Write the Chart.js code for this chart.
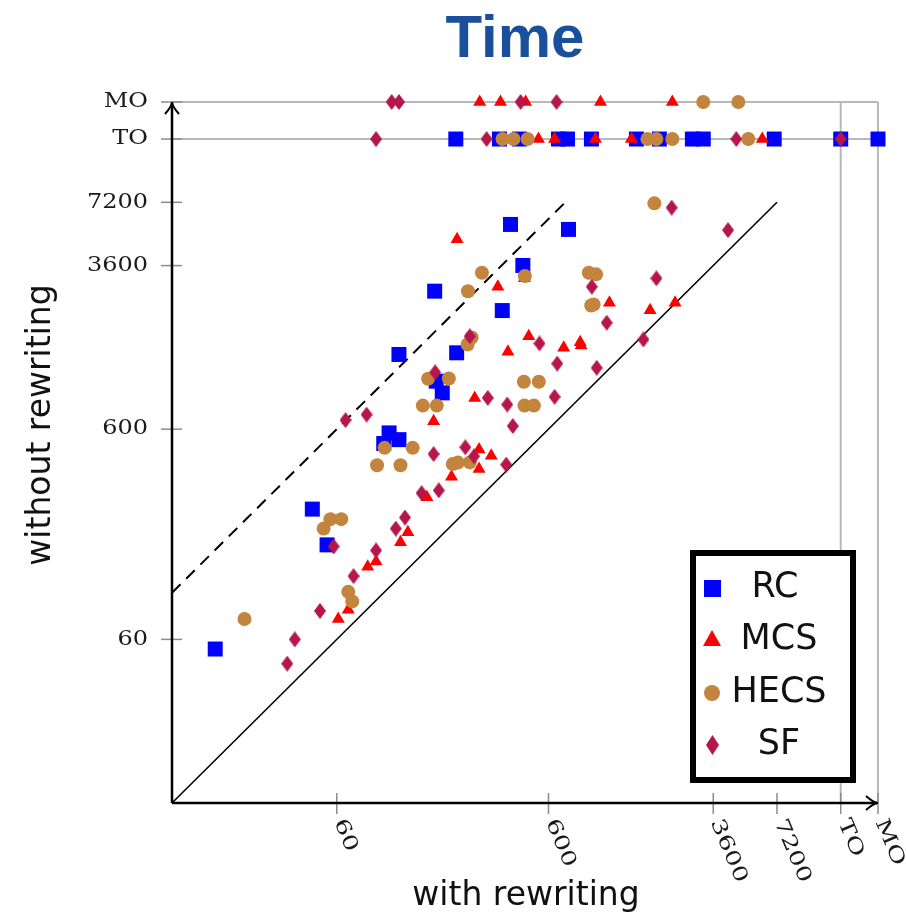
<!DOCTYPE html>
<html>
<head>
<meta charset="utf-8">
<script src="https://cdn.jsdelivr.net/npm/chart.js@4.4.0/dist/chart.umd.min.js"></script>
<style>
  html, body { margin: 0; padding: 0; background: #fff; }
  canvas { display: block; }
</style>
</head>
<body>
<canvas id="timeChart" width="906" height="917"></canvas>
<script>
  // timeouts and memouts get two extra slots past 7200 s
  var TO = 14400;
  var MO = 21600;

  var tickValues = [60, 600, 3600, 7200, TO, MO];
  var tickLabels = ['60', '600', '3600', '7200', 'TO', 'MO'];

  var seriesNames = ['RC', 'MCS', 'HECS', 'SF'];

  // seconds with / without rewriting
  var rcWith    = [16, 46, 54, 100, 106, 118, 118, 174, 177, 189, 221, 363, 397, 454, 746,
                   219, 352, 438, 669, 738, 957, 1561, 2004, 2869, 3230, 6985, TO, MO];
  var rcWithout = [54, 250, 169, 513, 576, 535, 1360, 2720, 1015, 893, 1385, 2200, 5650, 3605, 5350,
                   TO, TO, TO, TO, TO, TO, TO, TO, TO, TO, TO, TO, TO];

  var mcsWith    = [61, 68, 84, 92, 120, 130, 160, 172, 209, 269, 282, 322, 282, 222, 346, 462, 484,
                    386, 708, 847, 855, 1164, 1811, 2377,
                    538, 641, 1000, 1478, 6135, 284, 356, 468, 1056, 2307];
  var mcsWithout = [75, 83, 133, 141, 174, 194, 285, 654, 356, 845, 480, 449, 388, 4800, 2857, 3130, 1660,
                    1400, 1462, 1556, 1500, 2397, 2210, 2397,
                    TO, TO, TO, TO, TO, MO, MO, MO, MO, MO];

  var hecsWith    = [22, 68, 71, 52, 56, 63, 93, 120, 101, 137, 153, 178, 162, 203, 212, 224, 255,
                     250, 291, 464, 249, 260, 459, 540, 462, 512, 930, 1007, 955, 980, 1898,
                     364, 410, 478, 1759, 1940, 2307, 5270, 3230, 4729];
  var hecsWithout = [75, 101, 91, 202, 224, 224, 404, 404, 489, 489, 777, 777, 1042, 1045, 410, 416, 417,
                     2720, 3330, 3210, 1517, 1637, 1008, 1008, 777, 777, 3330, 3270, 2326, 2350, 7120,
                     TO, TO, TO, TO, TO, TO, TO, MO, MO];

  var sfWith    = [35, 38, 50, 72, 92, 58, 114, 126, 151, 182, 172, 66, 83, 175, 243, 267, 379, 407,
                   310, 383, 641, 255, 544, 660, 1014, 1130, 961, 1684, 1940, 2290, 4227,
                   92, 306, 4625, TO, 109, 118, 443, 655];
  var sfWithout = [46, 60, 82, 120, 159, 166, 202, 228, 298, 307, 457, 663, 704, 1119, 492, 446, 407, 621,
                   845, 786, 855, 1660, 1534, 1231, 1175, 1925, 2857, 1603, 3130, 6790, 5310,
                   TO, TO, TO, TO, MO, MO, MO, MO];

  var colors = ['#0000ff', '#ff0000', '#c3843e', '#b5164c'];

  function pairs(xs, ys) {
    var out = [];
    for (var i = 0; i < xs.length; i++) {
      out.push({ x: xs[i], y: ys[i] });
    }
    return out;
  }

  // tall diamond, chart.js only has the square one
  function diamond(w, h, color) {
    var c = document.createElement('canvas');
    c.width = w;
    c.height = h;
    var g = c.getContext('2d');
    g.fillStyle = color;
    g.beginPath();
    g.moveTo(w / 2, 0);
    g.lineTo(w, h / 2);
    g.lineTo(w / 2, h);
    g.lineTo(0, h / 2);
    g.closePath();
    g.fill();
    return c;
  }

  var sfMark = diamond(12, 16, colors[3]);

  function drawArrow(ctx, x, y, dx, dy) {
    // open stealth-like head pointing along (dx, dy)
    var len = 12, half = 7;
    var px = -dy, py = dx;
    ctx.beginPath();
    ctx.moveTo(x - dx * len + px * half, y - dy * len + py * half);
    ctx.quadraticCurveTo(x - dx * 4, y - dy * 4, x, y);
    ctx.quadraticCurveTo(x - dx * 4, y - dy * 4, x - dx * len - px * half, y - dy * len - py * half);
    ctx.stroke();
  }

  var decor = {
    id: 'decor',
    beforeDatasetsDraw: function(chart) {
      var ctx = chart.ctx;
      var xs = chart.scales.x, ys = chart.scales.y;
      var left = xs.getPixelForValue(10), right = xs.getPixelForValue(MO);
      var bottom = ys.getPixelForValue(10), top = ys.getPixelForValue(MO);
      ctx.save();
      ctx.strokeStyle = '#b8b8b8';
      ctx.lineWidth = 2;
      [TO, MO].forEach(function(v) {
        var py = ys.getPixelForValue(v);
        ctx.beginPath();
        ctx.moveTo(left, py);
        ctx.lineTo(right, py);
        ctx.stroke();
        var px = xs.getPixelForValue(v);
        ctx.beginPath();
        ctx.moveTo(px, top);
        ctx.lineTo(px, bottom);
        ctx.stroke();
      });
      ctx.lineWidth = 1.5;
      ctx.strokeStyle = '#8c8c8c';
      tickValues.forEach(function(v) {
        var py = ys.getPixelForValue(v);
        ctx.beginPath();
        ctx.moveTo(left - 11, py);
        ctx.lineTo(left + 10, py);
        ctx.stroke();
        var px = xs.getPixelForValue(v);
        ctx.beginPath();
        ctx.moveTo(px, bottom - 10);
        ctx.lineTo(px, bottom + 11);
        ctx.stroke();
      });
      ctx.restore();
    },
    afterDatasetsDraw: function(chart) {
      var ctx = chart.ctx;
      var xs = chart.scales.x, ys = chart.scales.y;
      var left = xs.getPixelForValue(10), right = xs.getPixelForValue(MO);
      var bottom = ys.getPixelForValue(10), top = ys.getPixelForValue(MO);
      ctx.save();

      // axes with arrow heads
      ctx.strokeStyle = '#000';
      ctx.lineWidth = 2.5;
      ctx.lineCap = 'butt';
      ctx.beginPath();
      ctx.moveTo(left, bottom);
      ctx.lineTo(left, top + 1);
      ctx.moveTo(left, bottom);
      ctx.lineTo(right - 1, bottom);
      ctx.stroke();
      ctx.lineWidth = 2;
      drawArrow(ctx, left, top, 0, -1);
      drawArrow(ctx, right, bottom, 1, 0);

      // tick labels
      ctx.fillStyle = '#1a1a1a';
      ctx.font = '20px "DejaVu Serif"';
      tickValues.forEach(function(v, i) {
        ctx.save();
        ctx.translate(148, ys.getPixelForValue(v));
        ctx.scale(1.2, 1);
        ctx.textAlign = 'right';
        ctx.textBaseline = 'middle';
        ctx.fillText(tickLabels[i], 0, 0);
        ctx.restore();

        ctx.save();
        ctx.translate(xs.getPixelForValue(v) + 2, 820);
        ctx.rotate(67 * Math.PI / 180);
        ctx.scale(1.32, 1);
        ctx.textAlign = 'left';
        ctx.textBaseline = 'middle';
        ctx.fillText(tickLabels[i], 0, 0);
        ctx.restore();
      });

      // axis titles
      ctx.fillStyle = '#111';
      ctx.font = '33px "DejaVu Sans"';
      ctx.textAlign = 'center';
      ctx.textBaseline = 'alphabetic';
      ctx.fillText('with rewriting', 526, 905);
      ctx.save();
      ctx.translate(50, 425);
      ctx.rotate(-Math.PI / 2);
      ctx.fillText('without rewriting', 0, 0);
      ctx.restore();

      // title
      ctx.fillStyle = '#1a4f9c';
      ctx.font = 'bold 60px "Liberation Sans"';
      ctx.fillText('Time', 515, 57);

      // legend box
      ctx.fillStyle = '#fff';
      ctx.fillRect(690, 550, 166, 233);
      ctx.strokeStyle = '#000';
      ctx.lineWidth = 6;
      ctx.strokeRect(693, 553, 160, 227);
      var rows = [588, 640, 693, 745];
      ctx.font = '35px "DejaVu Sans"';
      ctx.textAlign = 'center';
      seriesNames.forEach(function(name, i) {
        var my = rows[i];
        ctx.fillStyle = colors[i];
        if (i === 0) {
          ctx.fillRect(704, my - 8, 17, 17);
        } else if (i === 1) {
          ctx.beginPath();
          ctx.moveTo(712, my - 10);
          ctx.lineTo(721, my + 6);
          ctx.lineTo(703, my + 6);
          ctx.closePath();
          ctx.fill();
        } else if (i === 2) {
          ctx.beginPath();
          ctx.arc(712, my, 8, 0, Math.PI * 2);
          ctx.fill();
        } else {
          ctx.drawImage(diamond(13, 20, colors[3]), 706, my - 10);
        }
        ctx.fillStyle = '#111';
        ctx.fillText(name, i === 0 ? 775 : 779, my + 9);
      });
      ctx.restore();
    }
  };

  var ctx = document.getElementById('timeChart').getContext('2d');
  var chart = new Chart(ctx, {
    type: 'scatter',
    data: {
      datasets: [
        {
          label: 'RC',
          data: pairs(rcWith, rcWithout),
          pointStyle: 'rect',
          pointRadius: 10.6,
          backgroundColor: colors[0],
          borderWidth: 0,
          order: 4
        },
        {
          label: 'MCS',
          data: pairs(mcsWith, mcsWithout),
          pointStyle: 'triangle',
          pointRadius: 7.5,
          backgroundColor: colors[1],
          borderWidth: 0,
          order: 3
        },
        {
          label: 'HECS',
          data: pairs(hecsWith, hecsWithout),
          pointStyle: 'circle',
          pointRadius: 7,
          backgroundColor: colors[2],
          borderWidth: 0,
          order: 2
        },
        {
          label: 'SF',
          data: pairs(sfWith, sfWithout),
          pointStyle: sfMark,
          backgroundColor: colors[3],
          borderWidth: 0,
          order: 1
        },
        {
          // same time either way
          type: 'line',
          data: [{ x: 10, y: 10 }, { x: 7200, y: 7200 }],
          borderColor: '#000',
          borderWidth: 1.6,
          pointRadius: 0,
          order: 10
        },
        {
          // ten times slower without rewriting
          type: 'line',
          data: [{ x: 10, y: 100 }, { x: 720, y: 7200 }],
          borderColor: '#000',
          borderWidth: 2,
          borderDash: [12, 8],
          pointRadius: 0,
          order: 10
        }
      ]
    },
    options: {
      responsive: false,
      animation: false,
      clip: false,
      layout: { padding: { left: 172, right: 28, top: 102, bottom: 114 } },
      scales: {
        x: { type: 'logarithmic', min: 10, max: MO, bounds: 'data', display: false },
        y: { type: 'logarithmic', min: 10, max: MO, bounds: 'data', display: false }
      },
      plugins: {
        legend: { display: false },
        tooltip: { enabled: false }
      }
    },
    plugins: [decor]
  });
</script>
</body>
</html>
